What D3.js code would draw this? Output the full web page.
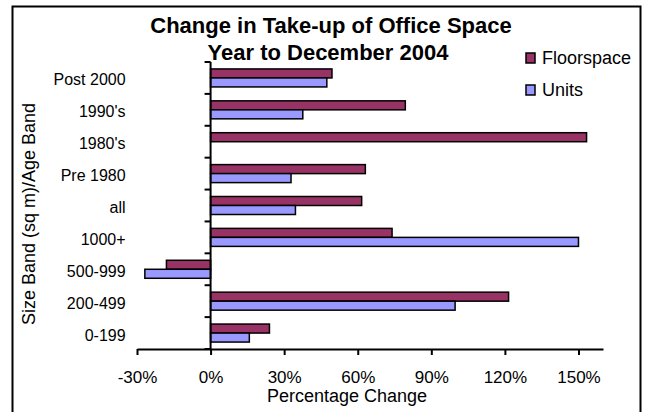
<!DOCTYPE html>
<html>
<head>
<meta charset="utf-8">
<script src="https://cdn.jsdelivr.net/npm/d3@7"></script>
<style>
  html, body { margin: 0; padding: 0; background: #fff; }
  svg { display: block; font-family: 'Liberation Sans', Arial, sans-serif; }
</style>
</head>
<body>
<svg id="chart" width="645" height="412"></svg>
<script>
// values (percentage change)
const categories = ['Post 2000', "1990's", "1980's", 'Pre 1980', 'all', '1000+', '500-999', '200-499', '0-199'];
const floorspace = [49.5, 79.4, 153.3, 63.1, 61.6, 74, -18, 121.5, 24];
const units = [47.4, 37.6, null, 32.8, 34.6, 150, -26.8, 99.7, 15.8];
const seriesNames = ['Floorspace', 'Units'];
const seriesColors = ['#993366', '#9999ff'];
const xTicks = [-30, 0, 30, 60, 90, 120, 150];
const xDomain = [-30, 160];

const PLOT = { left: 137, right: 603, top: 62, bottom: 349 };
const BAR_PAIR = 18;

const svg = d3.select('#chart');

// outer frame
svg.append('rect')
  .attr('x', 12.5).attr('y', 6.5)
  .attr('width', 628).attr('height', 412)
  .attr('fill', '#fff')
  .attr('stroke', '#000')
  .attr('stroke-width', 2);

const x = d3.scaleLinear().domain(xDomain).range([PLOT.left, PLOT.right]);
const y = d3.scaleBand().domain(categories).range([PLOT.top, PLOT.bottom]);
const ySub = d3.scaleBand()
  .domain(seriesNames)
  .range([(y.bandwidth() - BAR_PAIR) / 2, (y.bandwidth() + BAR_PAIR) / 2]);

// bars
const rows = [];
categories.forEach((c, i) => {
  [floorspace[i], units[i]].forEach((v, j) => {
    if (v !== null) rows.push({ cat: c, series: seriesNames[j], value: v, color: seriesColors[j] });
  });
});

svg.append('g').attr('class', 'bars')
  .selectAll('rect')
  .data(rows)
  .join('rect')
  .attr('x', (d) => x(Math.min(0, d.value)))
  .attr('y', (d) => y(d.cat) + ySub(d.series))
  .attr('width', (d) => Math.abs(x(d.value) - x(0)))
  .attr('height', ySub.bandwidth())
  .attr('fill', (d) => d.color)
  .attr('stroke', '#000')
  .attr('stroke-width', 1.5);

// x axis
const xAxisG = svg.append('g')
  .attr('transform', `translate(0,${PLOT.bottom})`)
  .call(d3.axisBottom(x).tickValues(xTicks).tickSizeInner(6).tickSizeOuter(0).tickPadding(16).tickFormat((d) => d + '%'));
xAxisG.select('.domain').attr('stroke', '#000').attr('stroke-width', 2);
xAxisG.selectAll('.tick line').attr('stroke', '#000').attr('stroke-width', 2);
xAxisG.selectAll('.tick text')
  .attr('fill', '#000')
  .style('font-size', '17px')
  .style('font-family', "'Liberation Sans', Arial, sans-serif");

// y axis: labels at band centres, ticks at band edges
const yAxisG = svg.append('g')
  .attr('transform', `translate(${x(0)},0)`)
  .call(d3.axisLeft(y).tickSize(0).tickPadding(85));
yAxisG.select('.domain').remove();
yAxisG.selectAll('.tick text')
  .attr('fill', '#000')
  .attr('dy', '0.47em')
  .style('font-size', '16px')
  .style('font-family', "'Liberation Sans', Arial, sans-serif");

const edges = categories.map((c) => y(c)).concat([PLOT.bottom]);
yAxisG.selectAll('line.edge')
  .data(edges)
  .join('line')
  .attr('class', 'edge')
  .attr('x1', -6).attr('x2', 0)
  .attr('y1', (d) => d).attr('y2', (d) => d)
  .attr('stroke', '#000')
  .attr('stroke-width', 2);
yAxisG.append('line')
  .attr('x1', 0).attr('x2', 0)
  .attr('y1', PLOT.top).attr('y2', PLOT.bottom)
  .attr('stroke', '#000')
  .attr('stroke-width', 2);

// titles
const title = svg.append('text')
  .attr('text-anchor', 'middle')
  .style('font-size', '22px')
  .style('font-weight', 'bold');
title.append('tspan').attr('x', 331).attr('y', 33).text('Change in Take-up of Office Space');
title.append('tspan').attr('x', 328).attr('y', 60).text('Year to December 2004');

svg.append('text')
  .attr('x', 347).attr('y', 402)
  .attr('text-anchor', 'middle')
  .style('font-size', '18px')
  .text('Percentage Change');

svg.append('text')
  .attr('transform', 'translate(35,214) rotate(-90)')
  .attr('text-anchor', 'middle')
  .style('font-size', '18px')
  .text('Size Band (sq m)/Age Band');

// legend
const legend = svg.append('g').attr('class', 'legend');
const legendItems = legend.selectAll('g')
  .data(seriesNames)
  .join('g')
  .attr('transform', (d, i) => `translate(526,${53 + i * 32})`);
legendItems.append('rect')
  .attr('width', 9).attr('height', 10)
  .attr('fill', (d, i) => seriesColors[i])
  .attr('stroke', '#000')
  .attr('stroke-width', 1.5);
legendItems.append('text')
  .attr('x', 16).attr('y', 10.5)
  .style('font-size', '18px')
  .text((d) => d);
</script>
</body>
</html>
